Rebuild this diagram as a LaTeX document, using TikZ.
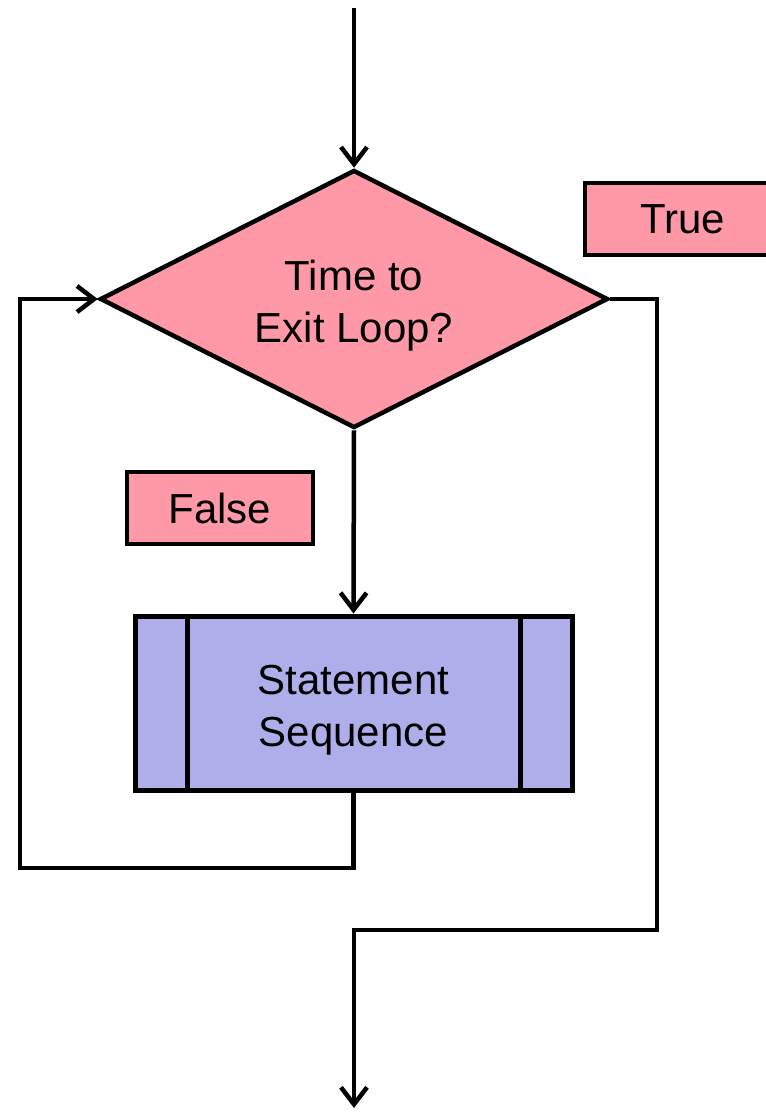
\documentclass[tikz,border=0pt]{standalone}
\usepackage{fontspec}
\setmainfont{Liberation Sans}
\usetikzlibrary{shapes.geometric,arrows.meta}

\definecolor{testpink}{RGB}{255,153,168}
\definecolor{bodyblue}{RGB}{174,174,235}

\tikzset{
  flow/.style={line width=4.5pt, -{Straight Barb[length=17pt,width=26pt,line width=4.5pt]}},
  line/.style={line width=4.5pt},
  txt/.style={font=\fontsize{42}{52}\selectfont, align=center, text=black},
  twoline/.style={text height=92pt, text depth=6pt},
  testbox/.style={draw, line width=4.5pt, fill=testpink, shape=diamond, aspect=2, txt,
    twoline, minimum width=508pt, minimum height=258pt, inner sep=0pt},
  labelbox/.style={draw, line width=4.5pt, fill=testpink, txt, inner sep=0pt},
  bodybox/.style={draw, line width=5pt, fill=bodyblue, txt, twoline, inner sep=0pt,
    minimum width=437pt, minimum height=174pt}
}

\begin{document}
\begin{tikzpicture}[x=1pt,y=1pt,yscale=-1,xscale=1]
            \useasboundingbox (0,0) rectangle (766,1112);

            % Decision
            \node[testbox] (test) at (354,299) {Time to\\Exit Loop?};
            % Labels
            \node[labelbox, minimum width=195pt, minimum height=72pt] (true) at (682.5,219) {True};
            \node[labelbox, minimum width=186pt, minimum height=72pt] (false) at (220,508) {False};
            % Predefined process
            \node[bodybox] (body) at (353.5,703) {Statement\\Sequence};
            \draw[line] (body.north west) ++(55,0) -- ++(0,174);
            \draw[line] (body.north east) ++(-54,0) -- ++(0,174);

            % Free ends
            \coordinate (start) at (354,8);
            \coordinate (loopL) at (20,868);
            \coordinate (exitR) at (657,930);
            \coordinate (end) at (354,1108);

            % Connectors
            \draw[flow] (start) -- (test.north);
            \draw[flow] (test.south) -- (body.north);
            \draw[flow] (body.south) |- (loopL) |- (test.west);
            \draw[flow] (test.east) -| (exitR) -| (end);
\end{tikzpicture}
\end{document}
